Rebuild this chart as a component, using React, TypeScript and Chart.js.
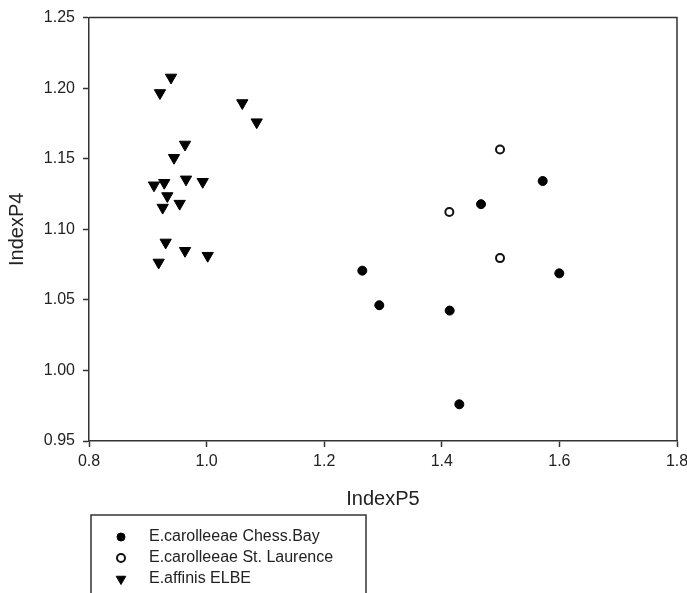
import React, { useEffect, useRef } from "react";
import { Chart, registerables } from "chart.js";

Chart.register(...registerables);

const FONT = '"Liberation Sans", Arial, sans-serif';

const chessBayX = [1.4667, 1.5716, 1.2648, 1.5998, 1.2937, 1.4134, 1.4298];
const chessBayY = [1.1178, 1.1342, 1.0707, 1.0688, 1.0462, 1.0424, 0.976];

const stLaurenceX = [1.499, 1.4128, 1.499];
const stLaurenceY = [1.1566, 1.1123, 1.0796];

const elbeX = [0.9395, 0.9207, 1.0607, 1.0852, 0.9633, 0.9446, 0.9105, 0.928, 0.965, 0.9934, 0.9332, 0.9542, 0.9253, 0.9304, 0.9633, 1.0019, 0.9185];
const elbeY = [1.2076, 1.1966, 1.1895, 1.1759, 1.1601, 1.1507, 1.1312, 1.133, 1.1354, 1.1337, 1.1236, 1.1182, 1.1154, 1.0907, 1.0848, 1.0813, 1.0765];

const seriesLabels = ["E.carolleeae Chess.Bay", "E.carolleeae St. Laurence", "E.affinis ELBE"];

const xTitle = "IndexP5";
const yTitle = "IndexP4";
const xMin = 0.8, xMax = 1.8, xStep = 0.2;
const yMin = 0.95, yMax = 1.25, yStep = 0.05;

const toPoints = (xs: number[], ys: number[]) => xs.map((x, i) => ({ x, y: ys[i] }));

const framePlugin = {
  id: "frame",
  afterDraw(chart: any) {
    const { ctx, chartArea } = chart;
    ctx.save();
    ctx.strokeStyle = "#333";
    ctx.lineWidth = 1.5;
    ctx.beginPath();
    ctx.moveTo(chartArea.left, chartArea.top);
    ctx.lineTo(chartArea.right, chartArea.top);
    ctx.lineTo(chartArea.right, chartArea.bottom);
    ctx.stroke();
    ctx.restore();
  },
};

function drawMarker(ctx: CanvasRenderingContext2D, ds: any, x: number, y: number) {
  ctx.save();
  ctx.fillStyle = ds.backgroundColor;
  ctx.strokeStyle = ds.borderColor;
  ctx.lineWidth = ds.borderWidth;
  ctx.beginPath();
  if (ds.pointStyle === "triangle") {
    const r = 5.5;
    let rad = Math.PI;
    for (let k = 0; k < 3; k++) {
      const px = x + Math.sin(rad) * r;
      const py = y - Math.cos(rad) * r;
      if (k === 0) ctx.moveTo(px, py);
      else ctx.lineTo(px, py);
      rad += (2 * Math.PI) / 3;
    }
    ctx.closePath();
  } else {
    ctx.arc(x, y, 4, 0, Math.PI * 2);
  }
  ctx.fill();
  ctx.stroke();
  ctx.restore();
}

const legendBoxPlugin = {
  id: "legendBox",
  afterDraw(chart: any) {
    const { ctx } = chart;
    const left = 91, top = 515, right = 366;
    ctx.save();
    ctx.strokeStyle = "#333";
    ctx.lineWidth = 1.5;
    ctx.strokeRect(left, top, right - left, 120);
    ctx.font = `16px ${FONT}`;
    ctx.textBaseline = "middle";
    ctx.textAlign = "left";
    chart.data.datasets.forEach((ds: any, i: number) => {
      const y = 537 + i * 21;
      drawMarker(ctx, ds, 121, y);
      ctx.fillStyle = "#222";
      ctx.fillText(ds.label, 149, y);
    });
    ctx.restore();
  },
};

export default function App() {
  const ref = useRef<HTMLCanvasElement | null>(null);
  useEffect(() => {
    if (!ref.current) return;
    const chart = new Chart(ref.current, {
      type: "scatter",
      data: {
        datasets: [
          {
            label: seriesLabels[0],
            data: toPoints(chessBayX, chessBayY),
            pointStyle: "circle",
            pointRadius: 4.5,
            backgroundColor: "#000",
            borderColor: "#000",
            borderWidth: 1,
          },
          {
            label: seriesLabels[1],
            data: toPoints(stLaurenceX, stLaurenceY),
            pointStyle: "circle",
            pointRadius: 4,
            backgroundColor: "#fff",
            borderColor: "#111",
            borderWidth: 2,
          },
          {
            label: seriesLabels[2],
            data: toPoints(elbeX, elbeY),
            pointStyle: "triangle",
            pointRotation: 180,
            pointRadius: 6.5,
            backgroundColor: "#000",
            borderColor: "#000",
            borderWidth: 1,
          },
        ],
      },
      options: {
        animation: false,
        responsive: false,
        layout: { padding: { left: 5, top: 16, right: 10, bottom: 82 } },
        plugins: { legend: { display: false }, tooltip: { enabled: false } },
        scales: {
          x: {
            type: "linear",
            min: xMin,
            max: xMax,
            afterFit: (s: any) => { s.height = 70; s.paddingRight = 0; s.paddingLeft = 0; },
            ticks: {
              stepSize: xStep,
              padding: 5,
              color: "#222",
              font: { family: FONT, size: 16 },
              callback: (v: any) => Number(v).toFixed(1),
            },
            grid: { display: true, drawOnChartArea: false, drawTicks: true, tickLength: 6, tickWidth: 1.5, tickColor: "#333" },
            border: { display: true, color: "#333", width: 1.5 },
            title: { display: true, text: xTitle, color: "#222", font: { family: FONT, size: 20 }, padding: 0 },
          },
          y: {
            type: "linear",
            min: yMin,
            max: yMax,
            afterFit: (s: any) => { s.width = 84; },
            ticks: {
              stepSize: yStep,
              padding: 8,
              color: "#222",
              font: { family: FONT, size: 16 },
              callback: (v: any) => Number(v).toFixed(2),
            },
            grid: { display: true, drawOnChartArea: false, drawTicks: true, tickLength: 6, tickWidth: 1.5, tickColor: "#333" },
            border: { display: true, color: "#333", width: 1.5 },
            title: { display: true, text: yTitle, color: "#222", font: { family: FONT, size: 20 }, padding: 0 },
          },
        },
      },
      plugins: [framePlugin, legendBoxPlugin],
    } as any);
    return () => chart.destroy();
  }, []);
  return (
    <div style={{ position: "absolute", left: 0, top: 0, width: 687, height: 593, background: "#fff" }}>
      <canvas ref={ref} width={687} height={593} style={{ display: "block" }} />
    </div>
  );
}
